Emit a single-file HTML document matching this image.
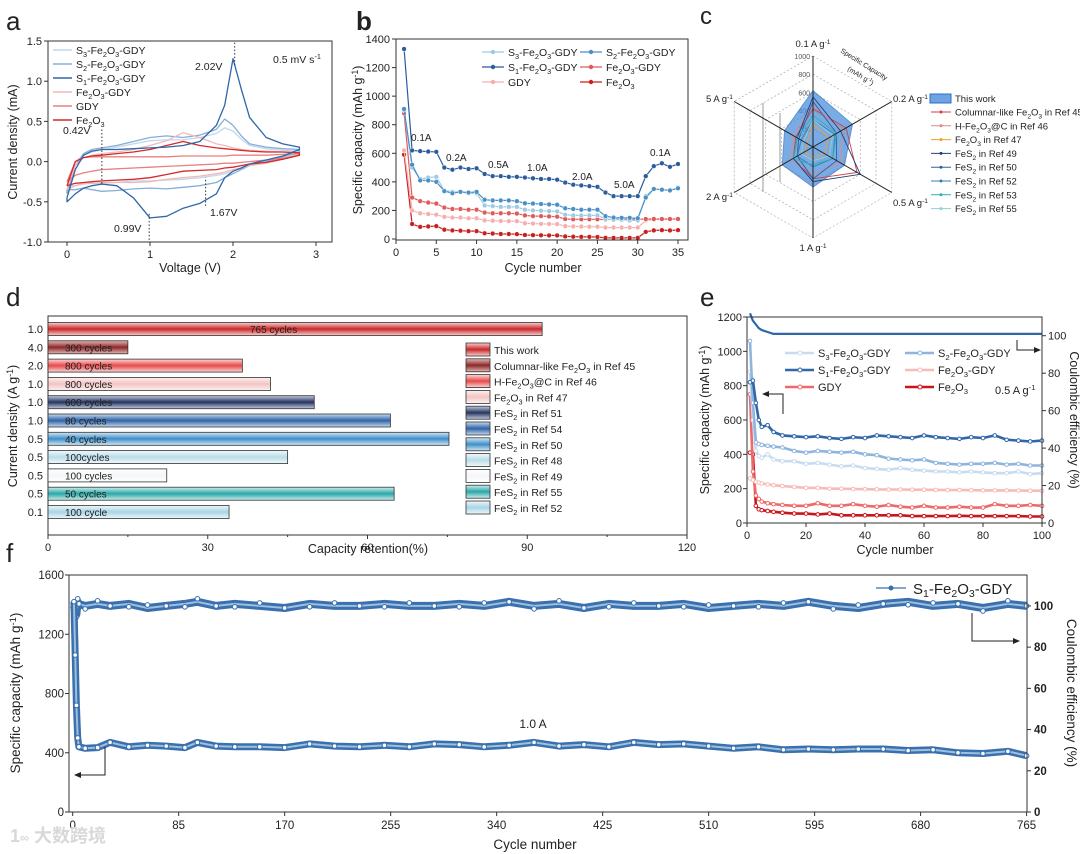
<!DOCTYPE html>
<html><head><meta charset="utf-8"><style>
body{margin:0;background:#fff}
svg{display:block;font-family:"Liberation Sans","Noto Sans CJK SC",sans-serif}
</style></head><body>
<svg id="fig" width="1080" height="854" viewBox="0 0 1080 854"></svg>
<script>
// ---------- data: panel a (CV) ----------
const cvV=[0,0.1,0.2,0.3,0.42,0.6,0.8,1.0,1.2,1.4,1.6,1.8,1.9,2.0,2.1,2.2,2.4,2.6,2.8];
const cvS3up=[-0.3,0,0.08,0.12,0.15,0.18,0.22,0.26,0.27,0.27,0.3,0.35,0.42,0.38,0.28,0.2,0.16,0.14,0.13];
const cvS3dn=[-0.3,-0.3,-0.28,-0.27,-0.27,-0.26,-0.24,-0.24,-0.23,-0.22,-0.2,-0.17,-0.15,-0.12,-0.08,-0.04,0,0.05,0.1];
const cvS2up=[-0.4,-0.05,0.1,0.15,0.17,0.2,0.25,0.3,0.32,0.3,0.33,0.4,0.53,0.45,0.32,0.22,0.18,0.16,0.15];
const cvS2dn=[-0.35,-0.35,-0.33,-0.35,-0.37,-0.36,-0.34,-0.33,-0.34,-0.32,-0.3,-0.26,-0.2,-0.15,-0.1,-0.05,0,0.06,0.12];
const cvS1up=[-0.45,-0.1,0.08,0.13,0.15,0.15,0.16,0.17,0.18,0.2,0.25,0.45,0.7,1.28,0.9,0.55,0.3,0.22,0.18];
const cvS1dn=[-0.5,-0.4,-0.33,-0.3,-0.28,-0.3,-0.45,-0.7,-0.68,-0.58,-0.52,-0.4,-0.2,-0.12,-0.08,-0.03,0.02,0.07,0.15];
const cvFGup=[-0.35,-0.05,0.05,0.08,0.1,0.12,0.15,0.2,0.26,0.36,0.3,0.22,0.2,0.17,0.15,0.14,0.13,0.12,0.1];
const cvFGdn=[-0.35,-0.3,-0.27,-0.27,-0.26,-0.26,-0.26,-0.25,-0.22,-0.2,-0.18,-0.15,-0.13,-0.1,-0.08,-0.05,-0.02,0.03,0.08];
const cvGup=[-0.25,0,0.05,0.06,0.06,0.06,0.06,0.06,0.06,0.07,0.07,0.07,0.07,0.08,0.08,0.08,0.08,0.09,0.1];
const cvGdn=[-0.25,-0.17,-0.14,-0.12,-0.1,-0.09,-0.08,-0.07,-0.06,-0.05,-0.04,-0.03,-0.02,-0.02,-0.01,0,0.02,0.04,0.08];
const cvFup=[-0.3,0,0.05,0.07,0.08,0.1,0.12,0.15,0.2,0.25,0.2,0.17,0.16,0.15,0.14,0.13,0.12,0.12,0.11];
const cvFdn=[-0.3,-0.27,-0.26,-0.25,-0.24,-0.23,-0.22,-0.2,-0.16,-0.12,-0.11,-0.1,-0.08,-0.07,-0.05,-0.03,-0.01,0.03,0.08];
const aYTicks=[-1.0,-0.5,0.0,0.5,1.0,1.5];
const aXTicks=[0,1,2,3];
// ---------- data: panel b (rate) ----------
const bS1=[1330,620,615,612,610,500,485,500,490,495,455,440,440,435,435,430,425,420,420,415,395,380,375,370,365,325,300,300,300,300,440,510,530,505,525];
const bS2=[910,520,410,410,400,335,320,330,325,330,275,270,270,270,265,250,248,245,242,240,215,210,205,205,205,160,150,148,148,145,290,350,345,340,355];
const bS3=[900,500,420,430,435,340,330,330,320,320,235,230,225,225,225,205,200,198,195,193,170,165,165,165,165,140,135,135,130,130,300,350,345,340,360];
const bFG=[880,290,265,255,248,220,210,210,205,205,185,180,180,180,178,165,160,160,158,156,140,138,138,138,138,135,138,138,138,138,140,140,140,140,140];
const bG=[620,200,180,175,170,155,150,150,145,145,130,128,126,125,125,110,108,106,105,104,90,88,87,86,86,80,80,80,80,80,130,135,138,138,140];
const bF=[590,105,85,88,90,65,60,58,55,55,40,38,35,35,34,28,27,26,25,25,18,16,15,15,14,8,8,8,8,8,50,60,62,60,62];
const bYTicks=[0,200,400,600,800,1000,1200,1400];
const bXTicks=[0,5,10,15,20,25,30,35];
// ---------- data: panel c (radar) ----------
const cAxes=["0.1 A g\u207B\u00B9","0.2 A g\u207B\u00B9","0.5 A g\u207B\u00B9","1 A g\u207B\u00B9","2 A g\u207B\u00B9","5 A g\u207B\u00B9"];
const cThis=[620,500,400,440,390,360];
const cR45=[420,420,560,350,250,220];
const cR46=[450,380,350,300,280,250];
const cR47=[250,200,150,120,100,80];
const cR49=[550,350,600,380,250,200];
const cR50=[500,300,300,350,200,180];
const cR52=[300,280,250,220,200,150];
const cR53=[350,300,250,200,250,200];
const cR55=[300,250,200,150,150,120];
const cRings=[200,400,600,800,1000];
// ---------- data: panel d (bars) ----------
const dDensity=["1.0","4.0","2.0","1.0","1.0","1.0","0.5","0.5","0.5","0.5","0.1"];
const dRetention=[92.8,15,36.5,41.8,50,64.3,75.3,45,22.3,65,34];
const dCycles=["765 cycles","300 cycles","800 cycles","800 cycles","600 cycles","80 cycles","40 cycles","100cycles","100 cycles","50 cycles","100 cycle"];
const dXTicks=[0,30,60,90,120];
// ---------- data: panel e (cycling 0.5 A/g) ----------
const eCyc=[1,2,3,4,5,7,9,12,16,20,24,28,32,36,40,44,48,52,56,60,64,68,72,76,80,84,88,92,96,100];
const eS1=[820,830,700,600,560,570,530,510,505,500,505,495,490,500,495,510,505,500,495,510,500,495,490,500,495,510,485,480,475,480];
const eS2=[1060,700,470,460,455,450,445,440,420,410,420,415,410,415,400,395,375,370,365,370,350,345,340,345,345,350,340,345,335,335];
const eS3=[880,600,420,390,380,400,370,360,360,345,350,340,330,335,320,315,310,320,310,305,300,300,295,300,295,290,290,300,285,290];
const eFG=[260,250,240,235,230,225,220,215,210,205,205,200,200,198,197,196,195,195,194,194,193,192,192,191,190,190,190,189,188,188];
const eG=[750,300,160,140,125,115,110,105,100,100,115,100,100,110,100,95,105,95,90,100,90,90,95,90,90,110,100,100,105,100];
const eF=[410,400,100,80,75,70,65,60,55,55,50,55,45,45,45,45,45,45,40,40,40,40,42,40,40,40,40,40,38,38];
const eCE=[112,108,106,104,103,102,101,101,101,101,101,101,101,101,101,101,101,101,101,101,101,101,101,101,101,101,101,101,101,101];
const eYTicks=[0,200,400,600,800,1000,1200];
const eRTicks=[0,20,40,60,80,100];
const eXTicks=[0,20,40,60,80,100];
// ---------- data: panel f (long cycling 1 A/g) ----------
const fCyc=[1,2,3,4,5,10,20,30,45,60,75,90,100,115,130,150,170,190,210,230,250,270,290,310,330,350,370,390,410,430,450,470,490,510,530,550,570,590,610,630,650,670,690,710,730,750,765];
const fCap=[1420,1060,720,500,440,430,435,470,440,450,445,435,470,445,440,440,435,460,445,440,450,440,460,455,440,450,470,445,455,440,470,455,460,445,430,440,420,425,420,425,425,415,420,400,395,410,380];
const fCE=[100,98,96,102,101,100,101,100,101,99,100,101,102,100,101,100,99,101,100,100,101,100,100,101,100,102,100,101,99,101,100,100,101,99,100,101,100,102,100,99,101,102,100,101,99,101,100];
const fYTicks=[0,400,800,1200,1600];
const fRTicks=[0,20,40,60,80,100];
const fXTicks=[0,85,170,255,340,425,510,595,680,765];

// ---------- helpers ----------
const NS="http://www.w3.org/2000/svg";
const svg=document.getElementById('fig');
function mk(tag,attrs,name,parent){
  const el=document.createElementNS(NS,tag);
  for(const k in attrs) el.setAttribute(k,attrs[k]);
  
  
  (parent||svg).appendChild(el);
  return el;
}
function txt(x,y,s,size,name,opt){
  opt=opt||{};
  const t=mk('text',{x:x,y:y,'font-size':size,fill:opt.fill||'#222','text-anchor':opt.anchor||'start'},name);
  if(opt.rot) t.setAttribute('transform','rotate('+opt.rot+' '+x+' '+y+')');
  if(opt.weight) t.setAttribute('font-weight',opt.weight);
  t.innerHTML=s;
  return t;
}
function lin(d0,d1,p0,p1){return v=>p0+(v-d0)*(p1-p0)/(d1-d0);}
function frame(x0,y0,x1,y1,name){mk('rect',{x:x0,y:y0,width:x1-x0,height:y1-y0,fill:'none',stroke:'#333','stroke-width':1},name);}
function pts(xs,ys,sx,sy){return xs.map((v,i)=>sx(v).toFixed(1)+','+sy(ys[i]).toFixed(1)).join(' ');}
function poly(p,color,w,name,extra){const e=mk('polyline',Object.assign({points:p,fill:'none',stroke:color,'stroke-width':w,'stroke-linejoin':'round'},extra||{}),name);return e;}
const sub='<tspan font-size="70%" dy="3">', esub='</tspan><tspan dy="-3">';

// ---------- Panel a ----------
(function(){
  const X0=48,X1=332,Y0=41,Y1=242;
  const sx=lin(0,3,67,316), sy=lin(-1,1.5,242,41);
  txt(6,30,'a',26,'panel-a-label');
  const series=[[cvS3up,cvS3dn,'#c3d7ec','cv-s3'],[cvS2up,cvS2dn,'#86aed8','cv-s2'],[cvFGup,cvFGdn,'#f3b9b9','cv-fe2o3-gdy'],[cvGup,cvGdn,'#e98080','cv-gdy'],[cvFup,cvFdn,'#d42a2a','cv-fe2o3'],[cvS1up,cvS1dn,'#2f67a8','cv-s1']];
  series.forEach(s=>{
    const p=pts(cvV,s[0],sx,sy)+' '+pts(cvV.slice().reverse(),s[1].slice().reverse(),sx,sy)+' '+sx(cvV[0]).toFixed(1)+','+sy(s[0][0]).toFixed(1);
    poly(p,s[2],1.3,s[3]);
  });
  [[0.42,0.4,-0.28],[0.99,-0.65,-0.98],[1.67,-0.55,-0.2],[2.02,1.2,1.5]].forEach((m,i)=>{
    mk('line',{x1:sx(m[0]),x2:sx(m[0]),y1:sy(m[1]),y2:sy(m[2]),stroke:'#333','stroke-dasharray':'1.5,2'},'peak-marker');
  });
  txt(63,134,'0.42V',10.5,'label-042v');
  txt(114,232,'0.99V',10.5,'label-099v');
  txt(210,216,'1.67V',10.5,'label-167v');
  txt(195,70,'2.02V',10.5,'label-202v');
  txt(273,63,'0.5 mV s<tspan font-size="70%" dy="-4">-1</tspan>',10.5,'scan-rate-label');
  frame(X0,Y0,X1,Y1,'panel-a-frame');
  aYTicks.forEach(v=>{mk('line',{x1:X0-4,x2:X0,y1:sy(v),y2:sy(v),stroke:'#333'},'y-tick');txt(X0-6,sy(v)+4,v.toFixed(1),11,'y-tick-label',{anchor:'end'});});
  aXTicks.forEach(v=>{mk('line',{x1:sx(v),x2:sx(v),y1:Y1,y2:Y1+4,stroke:'#333'},'x-tick');txt(sx(v),Y1+16,String(v),11,'x-tick-label',{anchor:'middle'});});
  txt(190,272,'Voltage (V)',12.5,'x-axis-title',{anchor:'middle'});
  txt(17,142,'Current density (mA)',12.5,'y-axis-title',{anchor:'middle',rot:-90});
  const leg=[['#c3d7ec','S'+sub+'3'+esub+'-Fe'+sub+'2'+esub+'O'+sub+'3'+esub+'-GDY'],['#86aed8','S'+sub+'2'+esub+'-Fe'+sub+'2'+esub+'O'+sub+'3'+esub+'-GDY'],['#2f67a8','S'+sub+'1'+esub+'-Fe'+sub+'2'+esub+'O'+sub+'3'+esub+'-GDY'],['#f3b9b9','Fe'+sub+'2'+esub+'O'+sub+'3'+esub+'-GDY'],['#e98080','GDY'],['#d42a2a','Fe'+sub+'2'+esub+'O'+sub+'3'+esub]];
  leg.forEach((l,i)=>{const y=50+i*14;mk('line',{x1:53,x2:72,y1:y,y2:y,stroke:l[0],'stroke-width':1.5},'legend-swatch');txt(76,y+4,l[1],10.5,'legend-entry');});
})();

// ---------- Panel b ----------
(function(){
  const X0=396,X1=688,Y0=39,Y1=240;
  const sx=lin(0,35,396,678), sy=lin(0,1400,239,39);
  txt(356,30,'b',26,'panel-b-label',{weight:'bold'});
  const cyc=bS1.map((_,i)=>i+1);
  const series=[[bF,'#c91f1f','rate-fe2o3'],[bG,'#f4b0b0','rate-gdy'],[bFG,'#e05a5a','rate-fe2o3-gdy'],[bS3,'#9ccbe4','rate-s3'],[bS2,'#4a8fc6','rate-s2'],[bS1,'#2a5c9e','rate-s1']];
  series.forEach(s=>{
    poly(pts(cyc,s[0],sx,sy),s[1],1.2,s[2]);
    s[0].forEach((v,i)=>{mk('circle',{cx:sx(cyc[i]),cy:sy(v),r:2.4,fill:s[1],stroke:'#fff','stroke-width':0.5},s[2]+'-point');});
  });
  frame(X0,Y0,X1,Y1,'panel-b-frame');
  bYTicks.forEach(v=>{mk('line',{x1:X0-4,x2:X0,y1:sy(v),y2:sy(v),stroke:'#333'},'y-tick');txt(X0-6,sy(v)+4,String(v),11,'y-tick-label',{anchor:'end'});});
  bXTicks.forEach(v=>{mk('line',{x1:sx(v),x2:sx(v),y1:Y1,y2:Y1+4,stroke:'#333'},'x-tick');txt(sx(v),Y1+16,String(v),11,'x-tick-label',{anchor:'middle'});});
  txt(543,272,'Cycle number',12.5,'x-axis-title',{anchor:'middle'});
  txt(362,140,'Specific capacity (mAh g<tspan font-size="70%" dy="-4">-1</tspan><tspan dy="4">)</tspan>',12.5,'y-axis-title',{anchor:'middle',rot:-90});
  [['0.1A',411,141],['0.2A',446,161],['0.5A',488,168],['1.0A',527,171],['2.0A',572,180],['5.0A',614,188],['0.1A',650,156]].forEach(l=>txt(l[1],l[2],l[0],10,'current-label'));
  const F='-Fe'+sub+'2'+esub+'O'+sub+'3'+esub;
  const leg=[['#9ccbe4','S'+sub+'3'+esub+F+'-GDY',482,52],['#4a8fc6','S'+sub+'2'+esub+F+'-GDY',580,52],['#2a5c9e','S'+sub+'1'+esub+F+'-GDY',482,67],['#e05a5a','Fe'+sub+'2'+esub+'O'+sub+'3'+esub+'-GDY',580,67],['#f4b0b0','GDY',482,82],['#c91f1f','Fe'+sub+'2'+esub+'O'+sub+'3'+esub,580,82]];
  leg.forEach(l=>{mk('line',{x1:l[2],x2:l[2]+22,y1:l[3],y2:l[3],stroke:l[0],'stroke-width':1.3},'legend-swatch');mk('circle',{cx:l[2]+11,cy:l[3],r:2.2,fill:l[0]},'legend-marker');txt(l[2]+26,l[3]+4,l[1],10.5,'legend-entry');});
})();

// ---------- Panel c ----------
(function(){
  const CX=813,CY=147,R=91;
  txt(700,24,'c',24,'panel-c-label');
  const ang=i=>(90-60*i)*Math.PI/180;
  const rs=v=>v/1000*R;
  const P=(i,v)=>[CX+rs(v)*Math.cos(ang(i)),CY-rs(v)*Math.sin(ang(i))];
  mk('line',{x1:763,x2:763,y1:103,y2:192,stroke:'#bbb','stroke-width':1.5},'gridline-3d');
  mk('line',{x1:780,x2:780,y1:113,y2:182,stroke:'#bbb','stroke-width':1.5},'gridline-3d');
  cRings.forEach(rv=>{
    const p=cAxes.map((_,i)=>P(i,rv).map(n=>n.toFixed(1)).join(',')).join(' ');
    mk('polygon',{points:p,fill:'none',stroke:'#aaa','stroke-width':0.7,'stroke-dasharray':'2,2'},'radar-ring');
    txt(CX-3,CY-rs(rv)+3,String(rv),7,'ring-label',{anchor:'end',fill:'#555'});
  });
  const polyOf=arr=>arr.map((v,i)=>P(i,v).map(n=>n.toFixed(1)).join(',')).join(' ');
  mk('polygon',{points:polyOf(cThis),fill:'#4d8fdc',opacity:0.75,stroke:'#2c6fc0','stroke-width':1},'radar-this-work');
  const refs=[[cR45,'#d04040','radar-ref45'],[cR46,'#e08888','radar-ref46'],[cR47,'#f0a030','radar-ref47'],[cR49,'#20407a','radar-ref49'],[cR50,'#3060a0','radar-ref50'],[cR52,'#3080b0','radar-ref52'],[cR53,'#30b0b0','radar-ref53'],[cR55,'#90d0d0','radar-ref55']];
  refs.forEach(r=>mk('polygon',{points:polyOf(r[0]),fill:'none',stroke:r[1],'stroke-width':0.9},r[2]));
  cAxes.forEach((a,i)=>{
    const e=P(i,1000);
    mk('line',{x1:CX,y1:CY,x2:e[0],y2:e[1],stroke:'#222','stroke-width':1},'radar-spoke');
  });
  txt(813,47,'0.1 A g<tspan font-size="70%" dy="-3">-1</tspan>',9.5,'axis-label-0.1',{anchor:'middle'});
  txt(893,102,'0.2 A g<tspan font-size="70%" dy="-3">-1</tspan>',9.5,'axis-label-0.2');
  txt(893,206,'0.5 A g<tspan font-size="70%" dy="-3">-1</tspan>',9.5,'axis-label-0.5');
  txt(813,251,'1 A g<tspan font-size="70%" dy="-3">-1</tspan>',9.5,'axis-label-1',{anchor:'middle'});
  txt(733,200,'2 A g<tspan font-size="70%" dy="-3">-1</tspan>',9.5,'axis-label-2',{anchor:'end'});
  txt(733,102,'5 A g<tspan font-size="70%" dy="-3">-1</tspan>',9.5,'axis-label-5',{anchor:'end'});
  txt(840,52,'Specific Capacity',7,'radar-title',{rot:32});
  txt(847,70,'(mAh g<tspan font-size="70%" dy="-3">-1</tspan><tspan dy="3">)</tspan>',7,'radar-unit',{rot:32});
  mk('rect',{x:930,y:94,width:21,height:9,fill:'#6ea3e3',stroke:'#2c6fc0'},'legend-swatch');
  txt(955,102,'This work',9.5,'legend-entry');
  const F2='Fe'+sub+'2'+esub+'O'+sub+'3'+esub, FS='FeS'+sub+'2'+esub;
  const leg=[['#d04040','Columnar-like '+F2+' in Ref 45'],['#e08888','H-'+F2+'@C in Ref 46'],['#f0a030',F2+' in Ref 47'],['#20407a',FS+' in Ref 49'],['#3060a0',FS+' in Ref 50'],['#3080b0',FS+' in Ref 52'],['#30b0b0',FS+' in Ref 53'],['#90d0d0',FS+' in Ref 55']];
  leg.forEach((l,i)=>{const y=112+i*13.8;mk('line',{x1:931,x2:951,y1:y,y2:y,stroke:l[0],'stroke-width':1},'legend-swatch');mk('circle',{cx:941,cy:y,r:1.5,fill:l[0]},'legend-marker');txt(955,y+3.5,l[1],9.5,'legend-entry');});
})();

// ---------- Panel d ----------
(function(){
  const X0=48,X1=687,Y0=316,Y1=535;
  const sx=lin(0,120,48,687);
  txt(6,306,'d',26,'panel-d-label');
  const grads=[['#c82828','#f9d0d0'],['#8a2a2a','#e6b5b5'],['#e84a4a','#fbd8d8'],['#f3c4c4','#fdf0f0'],['#26355e','#c3cbe0'],['#2f63a6','#c8daf0'],['#3f8fc8','#d4e9f6'],['#b9dde9','#f0f8fb'],['#f3f6f8','#ffffff'],['#2aa7a7','#cfeeee'],['#a8d4e4','#eef7fb']];
  const defs=mk('defs',{},'gradients');
  grads.forEach((g,i)=>{
    const lg=mk('linearGradient',{id:'g'+i,x1:0,y1:0,x2:0,y2:1},'bar-gradient',defs);
    mk('stop',{offset:'0%','stop-color':g[1]},'stop',lg);
    mk('stop',{offset:'50%','stop-color':g[0]},'stop',lg);
    mk('stop',{offset:'100%','stop-color':g[1]},'stop',lg);
  });
  frame(X0,Y0,X1,Y1,'panel-d-frame');
  dRetention.forEach((v,i)=>{
    const yc=329+i*18.3;
    mk('rect',{x:X0,y:yc-6.5,width:sx(v)-X0,height:13,fill:'url(#g'+i+')',stroke:'#333','stroke-width':0.8},'bar-'+i);
    txt(i==0?250:65,yc+4,dCycles[i],10,'bar-label');
    txt(X0-5,yc+4,dDensity[i],11,'y-tick-label',{anchor:'end'});
  });
  dXTicks.forEach(v=>{mk('line',{x1:sx(v),x2:sx(v),y1:Y1,y2:Y1+4,stroke:'#333'},'x-tick');txt(sx(v),Y1+16,String(v),11,'x-tick-label',{anchor:'middle'});});
  [15,45,75,105].forEach(v=>mk('line',{x1:sx(v),x2:sx(v),y1:Y1,y2:Y1+2,stroke:'#333'},'x-minor-tick'));
  txt(368,553,'Capacity retention(%)',12.5,'x-axis-title',{anchor:'middle'});
  txt(17,426,'Current density (A g<tspan font-size="70%" dy="-4">-1</tspan><tspan dy="4">)</tspan>',12.5,'y-axis-title',{anchor:'middle',rot:-90});
  const F2='Fe'+sub+'2'+esub+'O'+sub+'3'+esub, FS='FeS'+sub+'2'+esub;
  const leg=['This work','Columnar-like '+F2+' in Ref 45','H-'+F2+'@C in Ref 46',F2+' in Ref 47',FS+' in Ref 51',FS+' in Ref 54',FS+' in Ref 50',FS+' in Ref 48',FS+' in Ref 49',FS+' in Ref 55',FS+' in Ref 52'];
  leg.forEach((l,i)=>{const y=350+i*15.8;mk('rect',{x:466,y:y-7,width:24,height:13,fill:'url(#g'+i+')',stroke:'#333','stroke-width':0.8},'legend-swatch');txt(494,y+4,l,10.5,'legend-entry');});
})();

// ---------- Panel e ----------
(function(){
  const X0=747,X1=1042,Y0=317,Y1=523;
  const sx=lin(0,100,747,1042), sy=lin(0,1200,523,317), sr=lin(0,110,523,317);
  txt(700,306,'e',26,'panel-e-label');
  const series=[[eF,'#c8161c','cyc-fe2o3'],[eG,'#ec6a6a','cyc-gdy'],[eFG,'#f6bcbc','cyc-fe2o3-gdy'],[eS3,'#c8dcf0','cyc-s3'],[eS2,'#8fb5de','cyc-s2'],[eS1,'#2f67a8','cyc-s1']];
  series.forEach(s=>{
    poly(pts(eCyc,s[0],sx,sy),s[1],2.6,s[2]);
    s[0].forEach((v,i)=>mk('circle',{cx:sx(eCyc[i]),cy:sy(v),r:1.8,fill:'#fff',stroke:s[1],'stroke-width':1},s[2]+'-point'));
  });
  poly(pts(eCyc,eCE,sx,sr),'#2f67a8',2.2,'ce-line');
  frame(X0,Y0,X1,Y1,'panel-e-frame');
  eYTicks.forEach(v=>{mk('line',{x1:X0-4,x2:X0,y1:sy(v),y2:sy(v),stroke:'#333'},'y-tick');txt(X0-5,sy(v)+4,String(v),11,'y-tick-label',{anchor:'end'});});
  eRTicks.forEach(v=>{mk('line',{x1:X1,x2:X1+4,y1:sr(v),y2:sr(v),stroke:'#333'},'right-tick');txt(X1+6,sr(v)+4,String(v),11,'right-tick-label');});
  eXTicks.forEach(v=>{mk('line',{x1:sx(v),x2:sx(v),y1:Y1,y2:Y1+4,stroke:'#333'},'x-tick');txt(sx(v),Y1+16,String(v),11,'x-tick-label',{anchor:'middle'});});
  txt(895,554,'Cycle number',12.5,'x-axis-title',{anchor:'middle'});
  txt(709,420,'Specific capacity (mAh g<tspan font-size="70%" dy="-4">-1</tspan><tspan dy="4">)</tspan>',12.5,'y-axis-title',{anchor:'middle',rot:-90});
  txt(1070,420,'Coulombic efficiency (%)',12.5,'right-axis-title',{anchor:'middle',rot:90});
  mk('polyline',{points:'783,414 783,394 768,394',fill:'none',stroke:'#222'},'arrow-left');
  mk('polygon',{points:'762,394 769,391 769,397',fill:'#222'},'arrow-left-head');
  mk('polyline',{points:'1017,340 1017,350 1036,350',fill:'none',stroke:'#222'},'arrow-right');
  mk('polygon',{points:'1041,350 1034,347 1034,353',fill:'#222'},'arrow-right-head');
  const F='-Fe'+sub+'2'+esub+'O'+sub+'3'+esub;
  const leg=[['#c8dcf0','S'+sub+'3'+esub+F+'-GDY',785,353],['#8fb5de','S'+sub+'2'+esub+F+'-GDY',905,353],['#2f67a8','S'+sub+'1'+esub+F+'-GDY',785,370],['#f6bcbc','Fe'+sub+'2'+esub+'O'+sub+'3'+esub+'-GDY',905,370],['#ec6a6a','GDY',785,387],['#c8161c','Fe'+sub+'2'+esub+'O'+sub+'3'+esub,905,387]];
  leg.forEach(l=>{mk('line',{x1:l[2],x2:l[2]+29,y1:l[3],y2:l[3],stroke:l[0],'stroke-width':2.6},'legend-swatch');mk('circle',{cx:l[2]+15,cy:l[3],r:2,fill:'#fff',stroke:l[0]},'legend-marker');txt(l[2]+33,l[3]+4,l[1],11,'legend-entry');});
  txt(995,394,'0.5 A g<tspan font-size="70%" dy="-4">-1</tspan>',11,'current-label');
})();

// ---------- Panel f ----------
(function(){
  const X0=69,X1=1027,Y0=575,Y1=812;
  const sx=lin(0,765,72.7,1026.6), sy=lin(0,1600,812,575), sr=lin(0,115,812,575);
  txt(6,562,'f',26,'panel-f-label');
  poly(pts(fCyc,fCE,sx,sr),'#3a70ad',8,'ce-band');
  poly(pts(fCyc,fCE,sx,sr),'#9dbfe0',2,'ce-band-inner');
  fCE.forEach((v,i)=>mk('circle',{cx:sx(fCyc[i]),cy:sr(v)+((i%3)-1)*3,r:2.3,fill:'#fff',stroke:'#3a70ad','stroke-width':1},'ce-point'));
  poly(pts(fCyc,fCap,sx,sy),'#3a70ad',7,'capacity-band');
  poly(pts(fCyc,fCap,sx,sy),'#9dbfe0',2,'capacity-band-inner');
  fCap.forEach((v,i)=>mk('circle',{cx:sx(fCyc[i]),cy:sy(v),r:2.3,fill:'#fff',stroke:'#3a70ad','stroke-width':1},'capacity-point'));
  frame(X0,Y0,X1,Y1,'panel-f-frame');
  fYTicks.forEach(v=>{mk('line',{x1:X0-4,x2:X0,y1:sy(v),y2:sy(v),stroke:'#333'},'y-tick');txt(X0-5,sy(v)+4,String(v),11.5,'y-tick-label',{anchor:'end'});});
  fRTicks.forEach(v=>{mk('line',{x1:X1,x2:X1+4,y1:sr(v),y2:sr(v),stroke:'#333'},'right-tick');txt(X1+7,sr(v)+4,String(v),11.5,'right-tick-label',{weight:'bold'});});
  fXTicks.forEach(v=>{mk('line',{x1:sx(v),x2:sx(v),y1:Y1,y2:Y1+4,stroke:'#333'},'x-tick');txt(sx(v),Y1+17,String(v),11.5,'x-tick-label',{anchor:'middle'});});
  txt(535,849,'Cycle number',13.5,'x-axis-title',{anchor:'middle'});
  txt(20,693,'Specific capacity (mAh g<tspan font-size="70%" dy="-4">-1</tspan><tspan dy="4">)</tspan>',13.5,'y-axis-title',{anchor:'middle',rot:-90});
  txt(1067,693,'Coulombic efficiency (%)',13.5,'right-axis-title',{anchor:'middle',rot:90});
  txt(533,728,'1.0 A',12,'current-label',{anchor:'middle'});
  mk('polyline',{points:'105,747 105,775 80,775',fill:'none',stroke:'#222'},'arrow-left');
  mk('polygon',{points:'74,775 81,772 81,778',fill:'#222'},'arrow-left-head');
  mk('polyline',{points:'972,613 972,641 1014,641',fill:'none',stroke:'#222'},'arrow-right');
  mk('polygon',{points:'1020,641 1013,638 1013,644',fill:'#222'},'arrow-right-head');
  mk('line',{x1:876,x2:906,y1:588,y2:588,stroke:'#3a70ad','stroke-width':1.3},'legend-swatch');
  mk('circle',{cx:891,cy:588,r:2.5,fill:'#3a70ad'},'legend-marker');
  txt(913,594,'S'+sub+'1'+esub+'-Fe'+sub+'2'+esub+'O'+sub+'3'+esub+'-GDY',15,'legend-entry');
  txt(10,842,'1<tspan font-size="70%">∞</tspan> 大数跨境',18,'watermark',{fill:'#d8d8d8',weight:'bold'});
})();
</script>
</body></html>
